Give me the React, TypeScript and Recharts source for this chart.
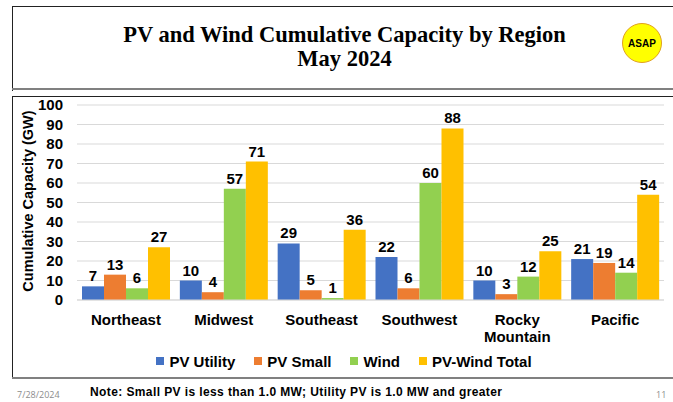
import React from "react";
import {
  BarChart,
  Bar,
  XAxis,
  YAxis,
  CartesianGrid,
  Legend,
  LabelList,
  Text
} from "recharts";

const regions = ["Northeast", "Midwest", "Southeast", "Southwest", "Rocky Mountain", "Pacific"];
const pvUtility = [7, 10, 29, 22, 10, 21];
const pvSmall = [13, 4, 5, 6, 3, 19];
const wind = [6, 57, 1, 60, 12, 14];
const pvWindTotal = [27, 71, 36, 88, 25, 54];
const yTicks = [0, 10, 20, 30, 40, 50, 60, 70, 80, 90, 100];

const seriesNames = ["PV Utility", "PV Small", "Wind", "PV-Wind Total"];
const seriesKeys = ["pvUtility", "pvSmall", "wind", "pvWindTotal"];
const COLORS = ["#4472C4", "#ED7D31", "#92D050", "#FFC000"];

const data = regions.map((region, i) => ({
  region,
  pvUtility: pvUtility[i],
  pvSmall: pvSmall[i],
  wind: wind[i],
  pvWindTotal: pvWindTotal[i]
}));

const SANS = "'Liberation Sans', Arial, sans-serif";
const SERIF = "'Liberation Serif', 'Times New Roman', serif";

const CategoryTick = (props: any) => {
  const { x, y, payload } = props;
  return (
    <Text
      x={x}
      y={y}
      width={95}
      textAnchor="middle"
      verticalAnchor="start"
      lineHeight={17}
      fill="#000"
      fontSize={15}
      fontWeight="bold"
      fontFamily={SANS}
    >
      {payload.value}
    </Text>
  );
};

const YLabel = () => (
  <text
    x={28}
    y={201}
    transform="rotate(-90, 28, 201)"
    textAnchor="middle"
    dominantBaseline="central"
    fill="#000"
    fontSize={14.5}
    fontWeight="bold"
    fontFamily={SANS}
  >
    Cumulative Capacity (GW)
  </text>
);

const LegendContent = () => (
  <div
    style={{
      display: "flex",
      justifyContent: "center",
      alignItems: "center",
      height: 20,
      gap: 19,
      fontFamily: SANS,
      fontSize: 15,
      fontWeight: "bold",
      color: "#000"
    }}
  >
    {seriesNames.map((name, i) => (
      <div key={name} style={{ display: "flex", alignItems: "center" }}>
        <span style={{ width: 8, height: 8, background: COLORS[i], marginRight: 5 }} />
        <span>{name}</span>
      </div>
    ))}
  </div>
);

export default function App() {
  return (
    <div style={{ position: "relative", width: 673, height: 402, background: "#fff", overflow: "hidden" }}>
      <style>{"body{margin:0}"}</style>

      {/* slide frame */}
      <div style={{ position: "absolute", left: 12, top: 6, width: 700, height: 84, borderLeft: "1.5px solid #222", borderTop: "1.5px solid #222" }} />
      <div style={{ position: "absolute", left: 12, top: 88, width: 700, height: 2, background: "#808080" }} />
      <div style={{ position: "absolute", left: 12, top: 96, width: 700, height: 282, borderLeft: "1.5px solid #222", borderTop: "1.5px solid #222" }} />
      <div style={{ position: "absolute", left: 12, top: 377, width: 700, height: 2, background: "#808080" }} />

      {/* title */}
      <div
        style={{
          position: "absolute",
          left: 0,
          top: 23,
          width: 689,
          textAlign: "center",
          fontFamily: SERIF,
          fontWeight: "bold",
          fontSize: 22.5,
          lineHeight: "24px",
          color: "#000"
        }}
      >
        PV and Wind Cumulative Capacity by Region
        <br />
        May 2024
      </div>

      {/* logo */}
      <div
        style={{
          position: "absolute",
          left: 622,
          top: 23,
          width: 38,
          height: 38,
          borderRadius: "50%",
          background: "#FFFF00",
          border: "1px solid #E0A020",
          display: "flex",
          alignItems: "center",
          justifyContent: "center",
          fontFamily: SANS,
          fontWeight: "bold",
          fontSize: 10,
          color: "#000"
        }}
      >
        ASAP
      </div>

      <div style={{ position: "absolute", left: 0, top: 0 }}>
        <BarChart
          width={673}
          height={402}
          data={data}
          margin={{ top: 105, right: 9, left: 0, bottom: 32 }}
          barCategoryGap={5}
          barGap={0}
        >
          <CartesianGrid vertical={false} stroke="#d9d9d9" />
          <XAxis
            dataKey="region"
            height={50}
            tickSize={0}
            tickMargin={14}
            axisLine={{ stroke: "#d9d9d9" }}
            tick={<CategoryTick />}
            interval={0}
          />
          <YAxis
            width={77}
            domain={[0, 100]}
            ticks={yTicks}
            interval={0}
            tickSize={0}
            tickMargin={14}
            axisLine={false}
            tick={{ fill: "#000", fontSize: 15, fontWeight: "bold", fontFamily: SANS }}
            label={<YLabel />}
          />
          <Legend
            verticalAlign="bottom"
            content={<LegendContent />}
            wrapperStyle={{ top: 351, left: 0, width: 688 }}
          />
          {seriesKeys.map((key, i) => (
            <Bar key={key} dataKey={key} name={seriesNames[i]} fill={COLORS[i]} isAnimationActive={false}>
              <LabelList
                dataKey={key}
                position="top"
                offset={5}
                fill="#000"
                fontSize={15}
                fontWeight="bold"
                fontFamily={SANS}
              />
            </Bar>
          ))}
        </BarChart>
      </div>

      {/* footer */}
      <div style={{ position: "absolute", left: 17, top: 388, fontFamily: "'Open Sans', sans-serif", fontSize: 9, color: "#8c8c8c" }}>
        7/28/2024
      </div>
      <div style={{ position: "absolute", left: 90, top: 385, fontFamily: SANS, fontSize: 12, letterSpacing: 0.4, fontWeight: "bold", color: "#000" }}>
        Note: Small PV is less than 1.0 MW; Utility PV is 1.0 MW and greater
      </div>
      <div style={{ position: "absolute", left: 656, top: 388, fontFamily: "'Open Sans', sans-serif", fontSize: 9, color: "#8c8c8c" }}>
        11
      </div>
    </div>
  );
}
